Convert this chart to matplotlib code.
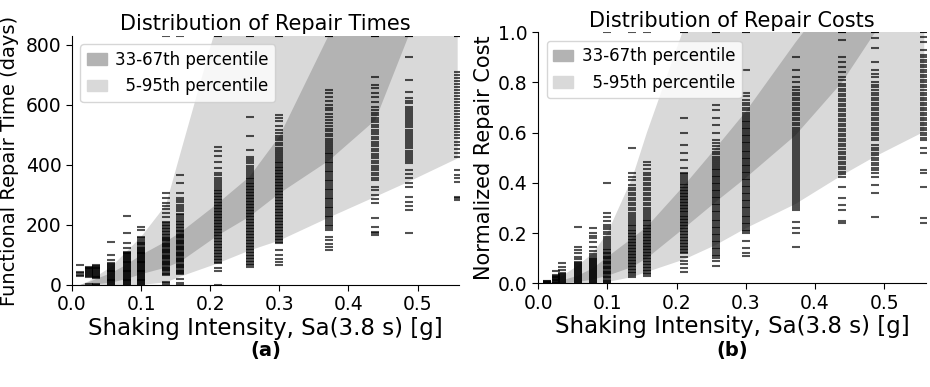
import numpy as np
import matplotlib.pyplot as plt
from matplotlib.patches import Patch

# intensity levels (Sa in g) where the simulations were run
levels = [0.012, 0.025, 0.035, 0.057, 0.079, 0.1, 0.136, 0.157,
          0.211, 0.257, 0.3, 0.372, 0.439, 0.487, 0.558]

# percentile bands, repair time (days)
time_p05 = [0, 0, 0, 0, 0, 0, 9, 28, 72, 115, 148, 225, 294, 344, 422]
time_p33 = [0, 0, 2, 8, 20, 36, 58, 78, 165, 228, 305, 415, 550, 830, 1000]
time_p67 = [0, 10, 20, 40, 68, 100, 145, 175, 272, 361, 495, 835, 1100, 1300, 1500]
time_p95 = [0, 13, 28, 61, 111, 160, 267, 440, 880, 1200, 1500, 1800, 2000, 2200, 2500]

# percentile bands, normalized repair cost
cost_p05 = [0, 0, 0, 0, 0, 0.005, 0.025, 0.045, 0.095, 0.153, 0.219, 0.316, 0.43, 0.505, 0.604]
cost_p33 = [0, 0, 0, 0.005, 0.015, 0.03, 0.065, 0.1, 0.22, 0.325, 0.42, 0.59, 0.8, 1.0, 1.2]
cost_p67 = [0, 0.005, 0.012, 0.03, 0.06, 0.105, 0.18, 0.225, 0.39, 0.54, 0.684, 0.96, 1.2, 1.4, 1.6]
cost_p95 = [0, 0.015, 0.03, 0.07, 0.12, 0.2, 0.42, 0.6, 1.02, 1.3, 1.5, 1.8, 2.0, 2.2, 2.5]

# individual realizations, repair time (days), one list per level
time_samples = [
    [30, 34, 41, 43, 67],
    [2, 28, 31, 34, 37, 40, 43, 46, 49, 52, 55, 58, 61],
    [0, 3, 22, 25, 28, 31, 34, 37, 40, 43, 46, 49, 52, 55, 58, 61, 64, 67],
    [0, 3, 6, 9, 12, 15, 18, 21, 24, 27, 30, 33, 36, 39, 42, 45, 48, 51, 54, 57, 60, 63, 66, 69, 72,
     83, 100, 142],
    [0, 3, 6, 9, 12, 15, 18, 21, 24, 27, 30, 33, 36, 39, 42, 45, 48, 51, 54, 57, 60, 63, 66, 69, 72,
     75, 78, 81, 84, 87, 90, 93, 96, 99, 102, 105, 108, 111, 122, 141, 172, 230],
    [0, 3, 6, 9, 12, 15, 18, 21, 24, 27, 30, 33, 36, 39, 42, 45, 48, 51, 54, 57, 60, 63, 66, 69, 72,
     75, 78, 81, 84, 87, 90, 93, 96, 99, 102, 105, 108, 111, 114, 117, 120, 124, 128, 132, 136, 140,
     144, 150, 156, 161, 183, 194],
    [0, 5, 11, 33, 37, 41, 45, 49, 53, 57, 61, 65, 69, 73, 77, 81, 85, 89, 93, 97, 101, 105, 109, 113,
     117, 121, 125, 129, 133, 137, 141, 145, 149, 153, 157, 161, 166, 171, 176, 181, 186, 191, 196, 201,
     206, 211, 228, 240, 252, 262, 272, 289, 306, 830],
    [0, 5, 20, 35, 39, 43, 47, 51, 55, 59, 63, 67, 71, 75, 79, 83, 87, 91, 95, 99, 103, 107, 111, 115,
     119, 123, 127, 131, 135, 139, 143, 147, 151, 155, 159, 163, 167, 171, 175, 179, 184, 189, 194, 199,
     204, 209, 214, 220, 226, 232, 238, 245, 252, 260, 268, 276, 284, 290, 308, 339, 367, 830],
    [0, 45, 55, 72, 77, 82, 87, 92, 97, 102, 107, 112, 117, 122, 127, 132, 137, 142, 147, 152, 157, 162,
     167, 172, 177, 182, 187, 192, 197, 202, 207, 212, 217, 222, 227, 232, 237, 242, 247, 252, 257, 262,
     267, 272, 277, 282, 287, 292, 297, 302, 307, 312, 318, 324, 330, 337, 344, 351, 358, 365, 372, 390,
     410, 430, 445, 461, 830, 830],
    [61, 66, 71, 76, 81, 86, 91, 96, 101, 106, 111, 116, 121, 126, 131, 136, 141, 146, 151, 156, 161,
     166, 171, 176, 181, 186, 191, 196, 201, 206, 211, 216, 221, 226, 231, 236, 241, 246, 251, 256, 261,
     266, 271, 276, 281, 286, 291, 296, 301, 306, 311, 316, 321, 326, 331, 336, 341, 346, 352, 358, 364,
     370, 377, 384, 391, 398, 405, 412, 420, 428, 450, 497, 559, 830, 830],
    [67, 78, 88, 100, 117, 139, 144, 149, 154, 159, 164, 169, 174, 179, 184, 189, 194, 199, 204, 209,
     214, 219, 224, 229, 234, 239, 244, 249, 254, 259, 264, 269, 274, 279, 284, 289, 294, 299, 304, 309,
     314, 319, 324, 329, 334, 339, 344, 349, 354, 359, 364, 369, 374, 379, 384, 389, 394, 399, 405, 411,
     417, 423, 430, 437, 444, 451, 458, 466, 474, 482, 490, 498, 506, 517, 530, 545, 557, 567, 830, 830],
    [117, 125, 135, 150, 161, 183, 189, 195, 201, 207, 213, 219, 225, 231, 237, 243, 249, 255, 261, 267,
     273, 279, 285, 291, 297, 303, 309, 315, 321, 327, 333, 339, 345, 351, 357, 363, 369, 375, 381, 387,
     393, 399, 405, 411, 417, 423, 429, 435, 441, 447, 453, 459, 466, 473, 480, 488, 496, 504, 512, 520,
     530, 540, 550, 560, 571, 583, 589, 600, 612, 628, 640, 650, 830, 830, 830],
    [167, 172, 178, 194, 222, 272, 285, 300, 315, 328, 350, 358, 366, 374, 382, 390, 398, 406, 414, 422,
     430, 438, 446, 454, 462, 470, 478, 486, 494, 502, 510, 518, 526, 534, 542, 550, 558, 566, 574, 582,
     594, 611, 625, 640, 655, 667, 694, 830, 830, 830],
    [174, 250, 262, 275, 294, 328, 340, 355, 370, 383, 406, 413, 420, 427, 434, 441, 448, 455, 462, 469,
     476, 483, 490, 497, 504, 511, 518, 525, 532, 539, 546, 553, 560, 567, 574, 581, 588, 594, 606, 614,
     622, 644, 683, 761, 830, 830, 830],
    [283, 290, 294, 344, 355, 365, 383, 428, 440, 452, 465, 478, 490, 500, 510, 520, 530, 540, 550, 560,
     570, 580, 590, 600, 610, 620, 630, 640, 650, 660, 670, 680, 690, 700, 711, 830, 830, 830],
]

# individual realizations, normalized repair cost
cost_samples = [
    [0.0, 0.002, 0.004, 0.006, 0.008, 0.01],
    [0.0, 0.003, 0.006, 0.009, 0.012, 0.015, 0.018, 0.021, 0.024, 0.027, 0.03, 0.033, 0.047],
    [0.0, 0.004, 0.008, 0.012, 0.016, 0.02, 0.024, 0.028, 0.032, 0.036, 0.04, 0.053, 0.066, 0.08],
    [0.0, 0.004, 0.008, 0.012, 0.016, 0.02, 0.024, 0.028, 0.032, 0.036, 0.04, 0.044, 0.048, 0.052,
     0.056, 0.06, 0.064, 0.068, 0.072, 0.076, 0.08, 0.086, 0.095, 0.105, 0.12, 0.133, 0.146, 0.226],
    [0.0, 0.004, 0.008, 0.012, 0.016, 0.02, 0.024, 0.028, 0.032, 0.036, 0.04, 0.044, 0.048, 0.052,
     0.056, 0.06, 0.064, 0.068, 0.072, 0.076, 0.08, 0.084, 0.088, 0.092, 0.097, 0.102, 0.108, 0.115,
     0.13, 0.145, 0.166, 0.179, 0.19, 0.2, 0.219],
    [0.0, 0.005, 0.01, 0.015, 0.02, 0.025, 0.03, 0.035, 0.04, 0.045, 0.05, 0.055, 0.06, 0.065, 0.07,
     0.075, 0.08, 0.085, 0.09, 0.095, 0.1, 0.105, 0.11, 0.115, 0.12, 0.126, 0.132, 0.138, 0.145, 0.152,
     0.16, 0.168, 0.176, 0.185, 0.195, 0.205, 0.215, 0.226, 0.232, 0.248, 0.265, 0.279, 0.4, 1.0],
    [0.027, 0.033, 0.039, 0.045, 0.051, 0.057, 0.063, 0.069, 0.075, 0.081, 0.087, 0.093, 0.099, 0.105,
     0.111, 0.117, 0.123, 0.129, 0.135, 0.141, 0.147, 0.153, 0.159, 0.165, 0.171, 0.177, 0.183, 0.189,
     0.195, 0.201, 0.207, 0.213, 0.22, 0.227, 0.234, 0.241, 0.248, 0.256, 0.264, 0.272, 0.28, 0.29,
     0.3, 0.31, 0.32, 0.33, 0.34, 0.35, 0.36, 0.37, 0.38, 0.39, 0.41, 0.425, 0.44, 0.54, 1.0],
    [0.03, 0.036, 0.042, 0.048, 0.054, 0.06, 0.066, 0.072, 0.078, 0.084, 0.09, 0.096, 0.102, 0.108,
     0.114, 0.12, 0.126, 0.132, 0.138, 0.144, 0.15, 0.156, 0.162, 0.168, 0.174, 0.18, 0.186, 0.192,
     0.198, 0.204, 0.21, 0.216, 0.222, 0.228, 0.234, 0.24, 0.247, 0.254, 0.261, 0.268, 0.275, 0.283,
     0.291, 0.3, 0.31, 0.32, 0.33, 0.34, 0.35, 0.36, 0.37, 0.38, 0.39, 0.4, 0.41, 0.42, 0.43, 0.44,
     0.455, 0.47, 0.485, 1.0],
    [0.046, 0.06, 0.075, 0.09, 0.106, 0.12, 0.126, 0.132, 0.138, 0.144, 0.15, 0.156, 0.162, 0.168,
     0.174, 0.18, 0.186, 0.192, 0.198, 0.204, 0.21, 0.216, 0.222, 0.228, 0.234, 0.24, 0.246, 0.252,
     0.258, 0.264, 0.27, 0.276, 0.282, 0.288, 0.294, 0.3, 0.306, 0.312, 0.318, 0.324, 0.33, 0.336,
     0.342, 0.348, 0.354, 0.36, 0.366, 0.372, 0.378, 0.384, 0.39, 0.396, 0.402, 0.41, 0.418, 0.426,
     0.434, 0.44, 0.46, 0.49, 0.52, 0.55, 0.6, 0.66, 1.0, 1.0],
    [0.07, 0.09, 0.1, 0.107, 0.114, 0.121, 0.128, 0.135, 0.142, 0.149, 0.156, 0.163, 0.17, 0.177,
     0.184, 0.191, 0.198, 0.205, 0.212, 0.219, 0.226, 0.233, 0.24, 0.247, 0.254, 0.261, 0.268, 0.275,
     0.282, 0.289, 0.296, 0.303, 0.31, 0.317, 0.324, 0.331, 0.338, 0.345, 0.352, 0.359, 0.366, 0.373,
     0.38, 0.387, 0.394, 0.401, 0.408, 0.415, 0.422, 0.429, 0.436, 0.443, 0.45, 0.457, 0.464, 0.472,
     0.48, 0.488, 0.496, 0.505, 0.515, 0.525, 0.535, 0.545, 0.56, 0.57, 0.6, 0.63, 0.66, 0.69, 0.71,
     1.0, 1.0],
    [0.11, 0.12, 0.14, 0.17, 0.2, 0.207, 0.214, 0.221, 0.228, 0.235, 0.242, 0.249, 0.256, 0.263, 0.27,
     0.277, 0.284, 0.291, 0.298, 0.305, 0.312, 0.319, 0.326, 0.333, 0.34, 0.347, 0.354, 0.361, 0.368,
     0.375, 0.382, 0.389, 0.396, 0.403, 0.41, 0.417, 0.424, 0.431, 0.438, 0.445, 0.452, 0.459, 0.466,
     0.473, 0.48, 0.487, 0.494, 0.501, 0.508, 0.515, 0.522, 0.529, 0.536, 0.543, 0.55, 0.557, 0.564,
     0.571, 0.578, 0.585, 0.592, 0.599, 0.606, 0.613, 0.62, 0.627, 0.634, 0.641, 0.648, 0.655, 0.662,
     0.67, 0.68, 0.69, 0.7, 0.71, 0.72, 0.73, 0.745, 0.757, 0.85, 1.0, 1.0],
    [0.146, 0.2, 0.22, 0.245, 0.29, 0.298, 0.306, 0.314, 0.322, 0.33, 0.338, 0.346, 0.354, 0.362,
     0.37, 0.378, 0.386, 0.394, 0.402, 0.41, 0.418, 0.426, 0.434, 0.442, 0.45, 0.458, 0.466, 0.474,
     0.482, 0.49, 0.498, 0.506, 0.514, 0.522, 0.53, 0.538, 0.546, 0.554, 0.562, 0.57, 0.578, 0.586,
     0.594, 0.602, 0.61, 0.62, 0.63, 0.64, 0.65, 0.66, 0.67, 0.68, 0.69, 0.7, 0.71, 0.72, 0.73, 0.74,
     0.75, 0.76, 0.77, 0.78, 0.8, 0.82, 0.85, 0.9, 1.0, 1.0, 1.0],
    [0.24, 0.25, 0.29, 0.31, 0.34, 0.385, 0.425, 0.435, 0.445, 0.455, 0.465, 0.475, 0.485, 0.495,
     0.505, 0.515, 0.525, 0.535, 0.545, 0.555, 0.565, 0.575, 0.585, 0.595, 0.605, 0.615, 0.625, 0.635,
     0.645, 0.655, 0.665, 0.675, 0.685, 0.695, 0.705, 0.715, 0.725, 0.735, 0.745, 0.755, 0.765, 0.775,
     0.785, 0.795, 0.81, 0.82, 0.84, 0.86, 0.88, 0.9, 0.97, 1.0, 1.0, 1.0],
    [0.266, 0.358, 0.39, 0.425, 0.44, 0.45, 0.46, 0.47, 0.48, 0.49, 0.5, 0.51, 0.52, 0.53, 0.54, 0.55,
     0.57, 0.58, 0.59, 0.6, 0.61, 0.62, 0.63, 0.64, 0.65, 0.66, 0.67, 0.68, 0.69, 0.7, 0.71, 0.72, 0.73,
     0.74, 0.75, 0.76, 0.77, 0.78, 0.79, 0.8, 0.82, 0.835, 0.85, 0.88, 0.936, 0.977, 1.0, 1.0, 1.0],
    [0.24, 0.26, 0.385, 0.44, 0.45, 0.52, 0.54, 0.57, 0.58, 0.59, 0.6, 0.61, 0.62, 0.63, 0.64, 0.65,
     0.66, 0.67, 0.68, 0.69, 0.7, 0.71, 0.72, 0.73, 0.74, 0.75, 0.76, 0.77, 0.78, 0.79, 0.8, 0.81, 0.82,
     0.83, 0.84, 0.85, 0.86, 0.87, 0.88, 0.89, 0.9, 0.91, 0.93, 0.96, 0.98, 1.0, 1.0],
]

light = '#d9d9d9'
dark = '#b3b3b3'

fig = plt.figure(figsize=(9.3, 3.87), dpi=100)
ax1 = fig.add_axes([0.0774, 0.2636, 0.4162, 0.6434])
ax2 = fig.add_axes([0.5788, 0.268, 0.4165, 0.6486])


def draw_panel(ax, p05, p33, p67, p95, samples, ymax):
    ax.fill_between(levels, p05, p95, color=light, lw=0)
    ax.fill_between(levels, p33, p67, color=dark, lw=0)
    # scatter draws each dash separately, so overlapping dashes get darker
    for x, ys in zip(levels, samples):
        ax.scatter([x] * len(ys), ys, marker='_', color='black',
                   s=30, linewidths=1.5, alpha=0.68)
    ax.set_xlim(0, 0.56)
    ax.set_ylim(0, ymax)
    ax.spines['top'].set_visible(False)
    ax.spines['right'].set_visible(False)
    ax.tick_params(labelsize=13.5, length=4)
    ax.set_xlabel('Shaking Intensity, Sa(3.8 s) [g]', fontsize=16.5, labelpad=2)
    handles = [Patch(color=dark, label='33-67th percentile'),
               Patch(color=light, label='  5-95th percentile')]
    ax.legend(handles=handles, loc='upper left', fontsize=12,
              handlelength=1.2, handletextpad=0.5)


draw_panel(ax1, time_p05, time_p33, time_p67, time_p95, time_samples, 830)
ax1.set_yticks([0, 200, 400, 600, 800])
ax1.set_ylabel('Functional Repair Time (days)', fontsize=14, labelpad=5)
ax1.set_title('Distribution of Repair Times', fontsize=15, pad=4)

draw_panel(ax2, cost_p05, cost_p33, cost_p67, cost_p95, cost_samples, 1.0)
ax2.set_yticks([0, 0.2, 0.4, 0.6, 0.8, 1.0])
ax2.set_ylabel('Normalized Repair Cost', fontsize=15, labelpad=3)
ax2.set_title('Distribution of Repair Costs', fontsize=15, pad=4)

fig.text(0.2855, 0.095, '(a)', ha='center', va='center', fontsize=14, fontweight='bold')
fig.text(0.787, 0.095, '(b)', ha='center', va='center', fontsize=14, fontweight='bold')

fig.savefig('out.png', dpi=100)
